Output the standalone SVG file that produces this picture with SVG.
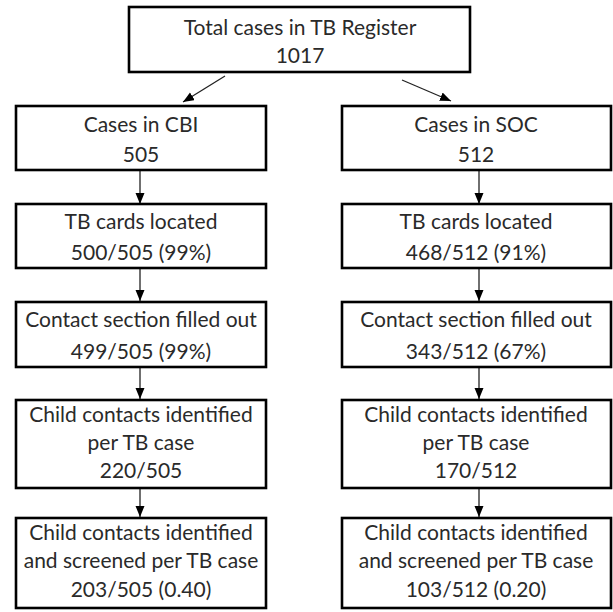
<svg xmlns="http://www.w3.org/2000/svg" width="613" height="612" viewBox="0 0 613 612">
<style>
.box{fill:#fff;stroke:#000;stroke-width:2.6}
.t{font-family:Lato,"Open Sans","Liberation Sans",sans-serif;font-size:21px;fill:#2a2a2a;text-anchor:middle}
.c{stroke:#222;stroke-width:1.3;fill:none}
</style>
<defs>
<marker id="ah" markerUnits="userSpaceOnUse" markerWidth="12" markerHeight="10" refX="11" refY="4.5" orient="auto">
<path d="M0,0 L11,4.5 L0,9 Z" fill="#000"/>
</marker>
</defs>
<rect width="613" height="612" fill="#fff"/>
<g id="connectors">
<line class="c" x1="225" y1="76" x2="183" y2="102" marker-end="url(#ah)"/>
<line class="c" x1="402" y1="80" x2="451" y2="101" marker-end="url(#ah)"/>
<line class="c" x1="140" y1="171" x2="140" y2="204" marker-end="url(#ah)"/>
<line class="c" x1="140" y1="268" x2="140" y2="301" marker-end="url(#ah)"/>
<line class="c" x1="140" y1="367" x2="140" y2="399" marker-end="url(#ah)"/>
<line class="c" x1="140" y1="489" x2="140" y2="517" marker-end="url(#ah)"/>
<line class="c" x1="479" y1="171" x2="479" y2="204" marker-end="url(#ah)"/>
<line class="c" x1="479" y1="268" x2="479" y2="301" marker-end="url(#ah)"/>
<line class="c" x1="479" y1="367" x2="479" y2="399" marker-end="url(#ah)"/>
<line class="c" x1="479" y1="489" x2="479" y2="517" marker-end="url(#ah)"/>
</g>
<g id="total">
<rect class="box" x="129" y="7" width="341" height="65"/>
<text class="t" x="300" y="35">Total cases in TB Register</text>
<text class="t" x="300" y="63">1017</text>
</g>
<g id="cbi">
<rect class="box" x="16" y="106" width="250" height="64"/>
<text class="t" x="141" y="132">Cases in CBI</text>
<text class="t" x="141" y="162">505</text>
</g>
<g id="soc">
<rect class="box" x="342" y="106" width="269" height="64"/>
<text class="t" x="476" y="132">Cases in SOC</text>
<text class="t" x="476" y="162">512</text>
</g>
<g id="cbi-cards">
<rect class="box" x="16" y="204" width="250" height="64"/>
<text class="t" x="141" y="229">TB cards located</text>
<text class="t" x="141" y="260">500/505 (99%)</text>
</g>
<g id="soc-cards">
<rect class="box" x="342" y="204" width="269" height="64"/>
<text class="t" x="476" y="229">TB cards located</text>
<text class="t" x="476" y="260">468/512 (91%)</text>
</g>
<g id="cbi-contact">
<rect class="box" x="16" y="302" width="250" height="65"/>
<text class="t" x="141" y="327">Contact section filled out</text>
<text class="t" x="141" y="359">499/505 (99%)</text>
</g>
<g id="soc-contact">
<rect class="box" x="342" y="302" width="269" height="65"/>
<text class="t" x="476" y="327">Contact section filled out</text>
<text class="t" x="476" y="359">343/512 (67%)</text>
</g>
<g id="cbi-child">
<rect class="box" x="16" y="400" width="250" height="88"/>
<text class="t" x="141" y="422">Child contacts identified</text>
<text class="t" x="141" y="450">per TB case</text>
<text class="t" x="141" y="478">220/505</text>
</g>
<g id="soc-child">
<rect class="box" x="342" y="400" width="269" height="88"/>
<text class="t" x="476" y="422">Child contacts identified</text>
<text class="t" x="476" y="450">per TB case</text>
<text class="t" x="476" y="478">170/512</text>
</g>
<g id="cbi-screened">
<rect class="box" x="16" y="518" width="250" height="90"/>
<text class="t" x="141" y="540">Child contacts identified</text>
<text class="t" x="141" y="568">and screened per TB case</text>
<text class="t" x="141" y="597">203/505 (0.40)</text>
</g>
<g id="soc-screened">
<rect class="box" x="342" y="518" width="269" height="90"/>
<text class="t" x="476" y="540">Child contacts identified</text>
<text class="t" x="476" y="568">and screened per TB case</text>
<text class="t" x="476" y="597">103/512 (0.20)</text>
</g>
</svg>
